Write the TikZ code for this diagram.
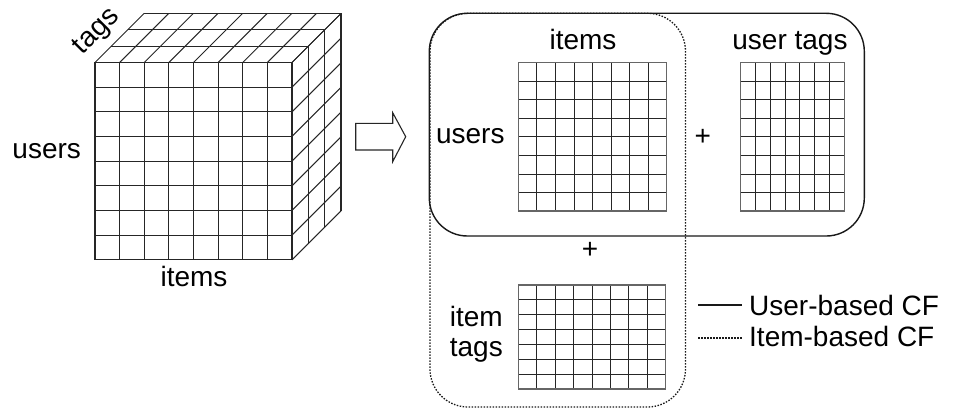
\documentclass[tikz,border=0pt]{standalone}
\usepackage{fontspec}
\setmainfont{Liberation Sans}
\begin{document}
\begin{tikzpicture}[x=1pt,y=-1pt,
  lbl/.style={font=\fontsize{28}{33}\selectfont, inner sep=0pt},
  gridline/.style={draw=black!85, line width=0.85pt},
  gridframe/.style={draw=black!60, line width=1.3pt},
  cubeline/.style={draw=black!85, line width=1.05pt},
  ubox/.style={draw=black!90, line width=1.4pt, rounded corners=38pt},
  dotline/.style={draw=black!90, line width=1.3pt, dash pattern=on 1.5pt off 1.5pt},
  ibox/.style={dotline, rounded corners=38pt}]
\useasboundingbox (0,0) rectangle (956,412);

% ---- tensor cube: front face 8x8, depth 3
\def\cx{95}\def\cy{62.5}\def\cw{197}\def\ch{197.3}\def\dd{49}
% front face
\foreach \i in {0,...,8}{
  \draw[cubeline] ({\cx+\i*\cw/8},\cy) -- ({\cx+\i*\cw/8},{\cy+\ch});
  \draw[cubeline] (\cx,{\cy+\i*\ch/8}) -- ({\cx+\cw},{\cy+\i*\ch/8});
}
% top face
\foreach \i in {0,...,8}
  \draw[cubeline] ({\cx+\i*\cw/8},\cy) -- ({\cx+\i*\cw/8+\dd},{\cy-\dd});
\foreach \k in {1,2,3}
  \draw[cubeline] ({\cx+\k*\dd/3},{\cy-\k*\dd/3}) -- ({\cx+\cw+\k*\dd/3},{\cy-\k*\dd/3});
% right face
\foreach \i in {0,...,8}
  \draw[cubeline] ({\cx+\cw},{\cy+\i*\ch/8}) -- ({\cx+\cw+\dd},{\cy+\i*\ch/8-\dd});
\foreach \k in {1,2,3}
  \draw[cubeline] ({\cx+\cw+\k*\dd/3},{\cy-\k*\dd/3}) -- ({\cx+\cw+\k*\dd/3},{\cy+\ch-\k*\dd/3});

\node[lbl, rotate=45] (tagsC) at (97,32) {tags};
\node[lbl, anchor=base] (usersC) at (46.7,158.3) {users};
\node[lbl, anchor=base] (itemsC) at (194,286.7) {items};

% ---- block arrow
\draw[line width=1.1pt, black!85, line join=miter]
  (355.7,123.3) -- (392.7,123.3) -- (392.7,112.7) -- (405.7,136.7)
  -- (392.7,161.7) -- (392.7,150) -- (355.7,150) -- cycle;

% ---- matrices
\newcommand{\mgrid}[6]{% x0,y0,x1,y1,cols,rows
  \foreach \i in {1,...,\numexpr#5-1\relax}
    \draw[gridline] ({#1+\i*(#3-#1)/#5},#2) -- ({#1+\i*(#3-#1)/#5},#4);
  \foreach \j in {1,...,\numexpr#6-1\relax}
    \draw[gridline] (#1,{#2+\j*(#4-#2)/#6}) -- (#3,{#2+\j*(#4-#2)/#6});
  \draw[gridframe] (#1,#2) rectangle (#3,#4);
}
\mgrid{518.3}{62.7}{666.7}{211}{8}{8}
\mgrid{740.7}{62.7}{844.3}{211}{7}{8}
\mgrid{518.3}{285}{665.7}{389}{8}{7}

% ---- groups
\draw[ubox] (429.3,13.3) rectangle (864.3,236);
\draw[ibox] (430,13.3) rectangle (685.5,407);

% ---- labels
\node[lbl, anchor=base] (itemsM) at (583,49.3) {items};
\node[lbl, anchor=base] (utagsM) at (790,49.3) {user tags};
\node[lbl, anchor=base] (usersM) at (470.3,143.3) {users};
\node[lbl] (plusA) at (702.7,137) {+};
\node[lbl] (plusB) at (590,250) {+};
\node[lbl, anchor=base] (itemM) at (476.3,326.7) {item};
\node[lbl, anchor=base] (itagsM) at (476.3,356.7) {tags};

% ---- legend
\coordinate (ls0) at (698,305);
\coordinate (ls1) at (742,305);
\coordinate (ld0) at (698,338);
\coordinate (ld1) at (742,338);
\draw[line width=1.3pt, black!90] (ls0) -- (ls1);
\draw[dotline] (ld0) -- (ld1);
\node[lbl, anchor=base west] (legU) at (749,315) {User-based CF};
\node[lbl, anchor=base west] (legI) at (749,346) {Item-based CF};
\end{tikzpicture}
\end{document}
